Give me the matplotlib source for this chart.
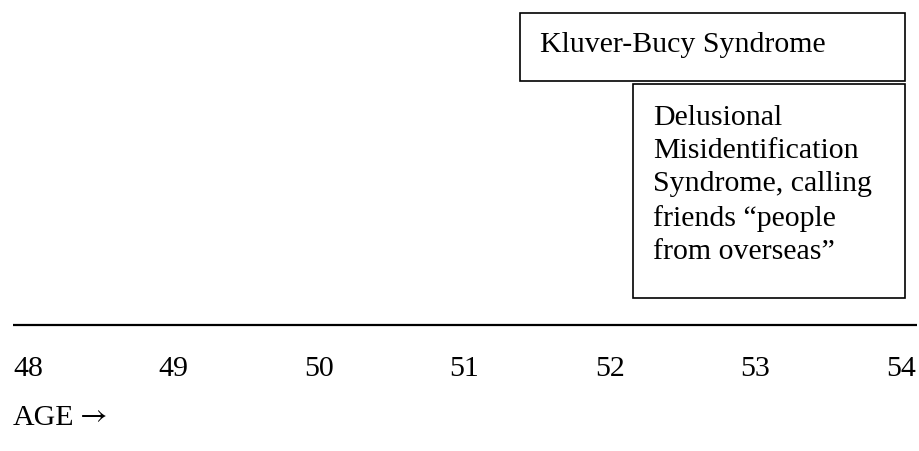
import matplotlib.pyplot as plt
from matplotlib.patches import Rectangle

# timeline data (ages in years)
ages = [48, 49, 50, 51, 52, 53, 54]
event_labels = ["Kluver-Bucy Syndrome",
                "Delusional\nMisidentification\nSyndrome, calling\nfriends \u201cpeople\nfrom overseas\u201d"]
event_start = [51.38, 52.16]
event_end = [54.03, 54.03]

plt.rcParams['font.family'] = ['Liberation Serif', 'DejaVu Serif']

fig = plt.figure(figsize=(9.2, 4.51), dpi=100)
ax = fig.add_axes([0, 0, 1, 1])
px_per_year = 145.5
ax.set_xlim(48 - 28 / px_per_year, 48 + (920 - 28) / px_per_year)
ax.set_ylim(451, 0)  # vertical layout measured from the top
ax.axis('off')

# boxes: (top, bottom, text centre) in layout units
box_rows = [(13, 81, 45), (84, 298, 185)]
for lab, x0, x1, (top, bot, mid) in zip(event_labels, event_start, event_end, box_rows):
    ax.add_patch(Rectangle((x0, top), x1 - x0, bot - top, fill=False,
                           edgecolor='black', linewidth=1.2))
    ax.text(x0 + 20 / px_per_year, mid, lab, fontsize=21.5, va='center',
            ha='left', linespacing=1.37)

# timeline axis
ax.hlines(325, ages[0] - 15 / px_per_year, ages[-1] + 16 / px_per_year,
          color='black', linewidth=1.6)
for a in ages:
    ax.text(a, 369, str(a), fontsize=21.5, ha='center', va='center')

ax.text(ages[0] - 15 / px_per_year, 418, "AGE", fontsize=21.5,
        ha='left', va='center')
ax.text(ages[0] + 52 / px_per_year, 417, "\u2192", fontsize=21.5,
        family='STIXGeneral', ha='left', va='center')

fig.savefig("out.png", dpi=100)
plt.close(fig)
